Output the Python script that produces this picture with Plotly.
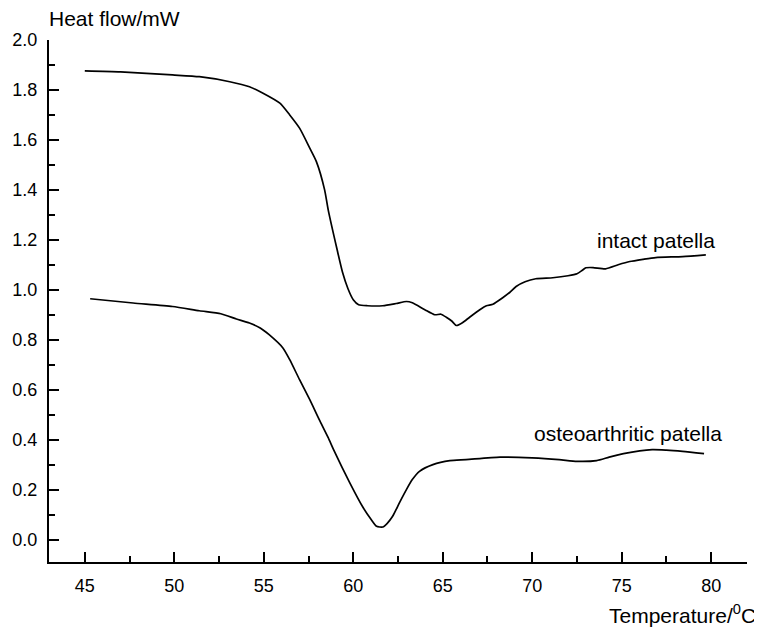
import plotly.graph_objects as go

# Intact patella (T in °C, heat flow in mW)
intact_T = [45.0, 47.0, 49.9, 51.4, 53.1, 54.2, 54.96, 55.9, 56.45, 57.0, 57.57, 57.94, 58.4,
            58.6, 59.1, 59.4, 59.7, 60.0, 60.3, 60.8, 61.65, 62.4, 62.97, 63.3, 64.0, 64.55,
            64.9, 65.2, 65.5, 65.76, 66.1, 66.5, 67.07, 67.44, 67.8, 68.35, 68.74, 69.1,
            69.6, 70.2, 71.15, 72.0, 72.5, 72.8, 73.0, 73.4, 74.1, 74.8, 75.45, 76.2, 76.9,
            78.4, 79.7]
intact_Q = [1.876, 1.872, 1.860, 1.853, 1.833, 1.813, 1.787, 1.747, 1.700, 1.647, 1.567,
            1.513, 1.400, 1.320, 1.160, 1.070, 1.005, 0.960, 0.940, 0.936, 0.936, 0.945,
            0.953, 0.948, 0.920, 0.900, 0.902, 0.890, 0.875, 0.857, 0.868, 0.890, 0.920,
            0.936, 0.942, 0.968, 0.989, 1.013, 1.032, 1.044, 1.048, 1.056, 1.064, 1.078,
            1.088, 1.089, 1.084, 1.100, 1.113, 1.122, 1.129, 1.133, 1.140]

# Osteoarthritic patella
oa_T = [45.3, 47.7, 49.9, 51.4, 52.6, 53.47, 54.2, 54.8, 55.3, 56.07, 56.45, 57.0, 57.57,
        58.1, 58.6, 58.9, 59.8, 60.55, 61.0, 61.3, 61.65, 61.9, 62.2, 62.6, 62.97, 63.3,
        63.7, 64.45, 65.4, 66.3, 68.2, 70.0, 71.5, 72.5, 73.6, 74.3, 75.1, 76.7, 77.5,
        78.4, 79.6]
oa_Q = [0.964, 0.947, 0.933, 0.916, 0.904, 0.883, 0.867, 0.847, 0.820, 0.767, 0.720,
        0.640, 0.560, 0.480, 0.408, 0.360, 0.228, 0.128, 0.080, 0.053, 0.050, 0.065,
        0.093, 0.150, 0.200, 0.240, 0.273, 0.300, 0.316, 0.320, 0.330, 0.327, 0.320,
        0.313, 0.316, 0.330, 0.344, 0.360, 0.358, 0.353, 0.344]

x_ticks = [45, 50, 55, 60, 65, 70, 75, 80]
y_ticks = [0.0, 0.2, 0.4, 0.6, 0.8, 1.0, 1.2, 1.4, 1.6, 1.8, 2.0]
y_tick_text = ["%.1f" % v for v in y_ticks]

FONT = "Liberation Sans, Arial, sans-serif"
LBL = 21

fig = go.Figure()
fig.add_trace(go.Scatter(x=intact_T, y=intact_Q, mode="lines",
                         line=dict(color="black", width=1.7, shape="spline", smoothing=0.6),
                         showlegend=False))
fig.add_trace(go.Scatter(x=oa_T, y=oa_Q, mode="lines",
                         line=dict(color="black", width=1.7, shape="spline", smoothing=0.6),
                         showlegend=False))

fig.add_annotation(x=76.9, y=1.196, text="intact patella", showarrow=False,
                   font=dict(family=FONT, size=LBL, color="black"))
fig.add_annotation(x=75.36, y=0.426, text="osteoarthritic patella", showarrow=False,
                   font=dict(family=FONT, size=LBL, color="black"))
fig.add_annotation(xref="paper", yref="paper", x=0.0, y=1.0, xshift=-2, yshift=22,
                   xanchor="left", yanchor="middle", text="Heat flow/mW", showarrow=False,
                   font=dict(family=FONT, size=LBL, color="black"))
fig.add_annotation(xref="paper", yref="paper", x=1.0, y=0.0, xshift=11, yshift=-52,
                   xanchor="right", yanchor="middle", text="Temperature/<sup>0</sup>C",
                   showarrow=False, font=dict(family=FONT, size=LBL, color="black"))

# The page body adds an 8 px offset, so the figure is 8 px smaller on each side.
fig.update_layout(
    width=754, height=623,
    margin=dict(l=41, r=15, t=32, b=69, autoexpand=False),
    paper_bgcolor="white", plot_bgcolor="white",
    font=dict(family=FONT, size=18, color="black"),
)
fig.update_xaxes(range=[43, 82], tickvals=x_ticks, ticks="inside", ticklen=10, tickwidth=2,
                 tickcolor="black", showline=True, linecolor="black", linewidth=2,
                 showgrid=False, zeroline=False, ticklabelstandoff=6, automargin=False,
                 minor=dict(ticks="inside", ticklen=6, tickwidth=2, tickcolor="black",
                            dtick=2.5, tick0=42.5, showgrid=False))
fig.update_yaxes(range=[-0.09, 2.0], tickvals=y_ticks, ticktext=y_tick_text, ticks="inside",
                 ticklen=10, tickwidth=2, tickcolor="black", showline=True, linecolor="black",
                 linewidth=2, showgrid=False, zeroline=False, ticklabelstandoff=6,
                 automargin=False,
                 minor=dict(ticks="inside", ticklen=6, tickwidth=2, tickcolor="black",
                            dtick=0.1, tick0=0, showgrid=False))

fig.write_html("out.html")
